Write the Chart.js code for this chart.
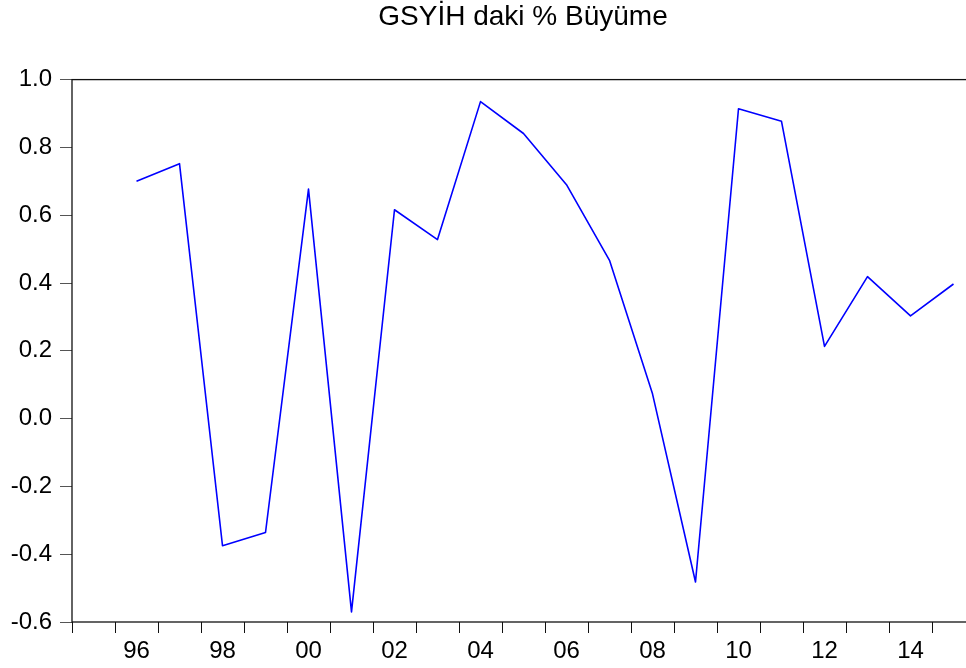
<!DOCTYPE html>
<html>
<head>
<meta charset="utf-8">
<script src="https://cdn.jsdelivr.net/npm/chart.js@4"></script>
<style>
    html, body { margin: 0; padding: 0; background: #fff; overflow: hidden; }
    #wrap { width: 966px; height: 668px; overflow: hidden; }
</style>
</head>
<body>
<div id="wrap">
    <canvas id="grafico" width="1046" height="668"></canvas>
</div>
<script>
// Yıllar (1995 verisi yok - büyüme hesaplanamıyor)
const yillar = ['95', '96', '97', '98', '99', '00', '01', '02', '03', '04', '05',
                '06', '07', '08', '09', '10', '11', '12', '13', '14', '15'];
const buyume = [null, 0.700, 0.752, -0.375, -0.336, 0.677, -0.570, 0.616, 0.528, 0.935, 0.841,
                0.690, 0.467, 0.073, -0.482, 0.914, 0.877, 0.213, 0.419, 0.303, 0.397];
const gosterilenEtiketler = ['96', '98', '00', '02', '04', '06', '08', '10', '12', '14'];
const baslik = 'GSYİH daki % Büyüme';

const yaziTipi = '"Liberation Sans", Arial, sans-serif';

// Çizim alanının etrafına çerçeve
const cerceve = {
    id: 'cerceve',
    afterDraw(chart) {
        const { ctx, chartArea } = chart;
        ctx.save();
        ctx.strokeStyle = '#111';
        ctx.lineWidth = 1.3;
        ctx.strokeRect(chartArea.left, chartArea.top, chartArea.right - chartArea.left, chartArea.bottom - chartArea.top);
        ctx.restore();
    }
};

const ctx = document.getElementById('grafico').getContext('2d');
new Chart(ctx, {
    type: 'line',
    data: {
        labels: yillar,
        datasets: [{
            label: baslik,
            data: buyume,
            borderColor: '#0000ff',
            borderWidth: 1.6,
            borderJoinStyle: 'round',
            pointRadius: 0,
            tension: 0,
            fill: false
        }]
    },
    options: {
        responsive: false,
        animation: false,
        layout: { padding: 0 },
        plugins: {
            legend: { display: false },
            tooltip: { enabled: false },
            title: {
                display: true,
                text: baslik,
                color: '#000',
                font: { family: yaziTipi, size: 28, weight: 'normal' },
                padding: { top: 0, bottom: 46 }
            }
        },
        scales: {
            x: {
                type: 'category',
                offset: true,
                grid: {
                    offset: true,
                    drawOnChartArea: false,
                    drawTicks: true,
                    tickLength: 11,
                    color: '#111'
                },
                border: { display: false },
                ticks: {
                    autoSkip: false,
                    maxRotation: 0,
                    padding: 4,
                    color: '#000',
                    font: { family: yaziTipi, size: 24 },
                    callback: function (val) {
                        const lbl = this.getLabelForValue(val);
                        return gosterilenEtiketler.includes(lbl) ? lbl : '';
                    }
                },
                afterFit: (scale) => { scale.height = 46; }
            },
            y: {
                min: -0.6,
                max: 1.0,
                grid: {
                    drawOnChartArea: false,
                    drawTicks: true,
                    tickLength: 12,
                    color: '#555'
                },
                border: { display: false },
                ticks: {
                    stepSize: 0.2,
                    padding: 8,
                    color: '#000',
                    font: { family: yaziTipi, size: 24 },
                    callback: (v) => v.toFixed(1)
                },
                afterFit: (scale) => { scale.width = 72; }
            },
            // sağ tarafta boşluk için görünmez eksen
            sag: {
                position: 'right',
                min: -0.6,
                max: 1.0,
                grid: { display: false },
                border: { display: false },
                ticks: { display: false },
                afterFit: (scale) => { scale.width = 71; }
            }
        }
    },
    plugins: [cerceve]
});
</script>
</body>
</html>
